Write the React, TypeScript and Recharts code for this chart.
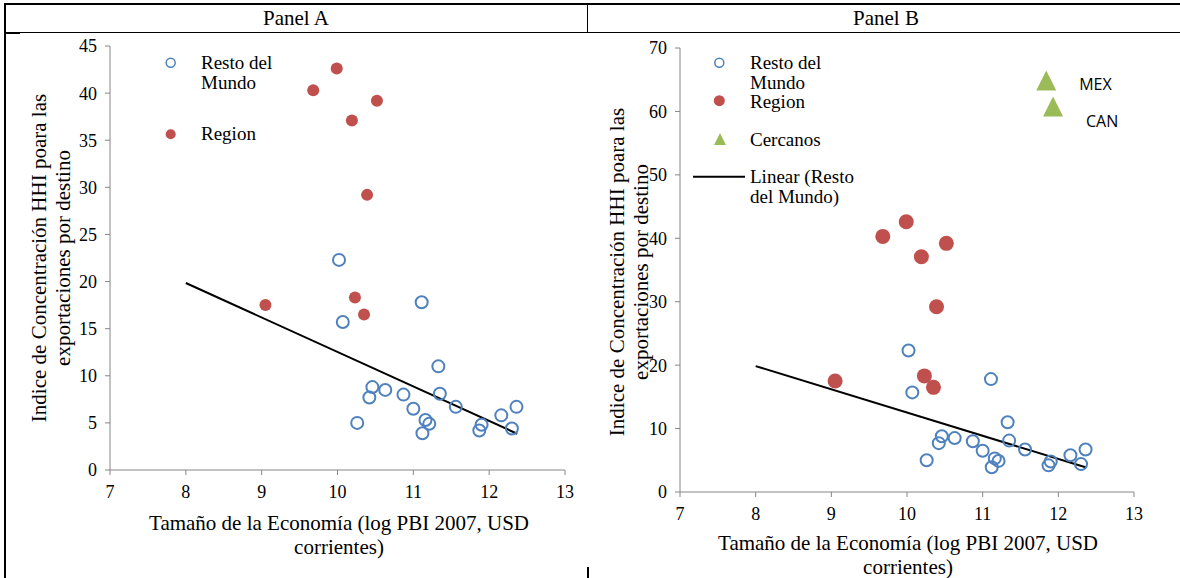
import React from "react";
import { ReferenceLine, Scatter, ScatterChart, XAxis, YAxis } from "recharts";

const SERIF = '"Liberation Serif", "Times New Roman", serif';
const SANS = '"Open Sans", "Liberation Sans", sans-serif';

// axis ticks
const xTicks = [7, 8, 9, 10, 11, 12, 13];
const yTicksA = [0, 5, 10, 15, 20, 25, 30, 35, 40, 45];
const yTicksB = [0, 10, 20, 30, 40, 50, 60, 70];

// Resto del Mundo (log PBI, HHI)
const restoX = [10.02, 10.07, 11.11, 11.33, 10.46, 10.42, 10.63, 10.87, 11.35, 11.0, 11.56, 10.26, 11.16, 11.21, 11.12, 11.9, 11.87, 12.16, 12.3, 12.36];
const restoY = [22.3, 15.7, 17.8, 11.0, 8.8, 7.7, 8.5, 8.0, 8.1, 6.5, 6.7, 5.0, 5.3, 4.9, 3.9, 4.8, 4.2, 5.8, 4.4, 6.7];

// Region
const regionX = [9.99, 9.68, 10.52, 10.19, 10.39, 9.05, 10.23, 10.35];
const regionY = [42.6, 40.3, 39.2, 37.1, 29.2, 17.5, 18.3, 16.5];

// Cercanos (only panel B)
const cercanosNames = ["MEX", "CAN"];
const cercanosX = [11.84, 11.93];
const cercanosY = [64.7, 60.6];

// Linear (Resto del Mundo)
const trendX = [8.0, 12.37];
const trendY = [19.85, 3.85];

const zip = (xs: number[], ys: number[]) => xs.map((x, i) => ({ x, y: ys[i] }));
const resto = zip(restoX, restoY);
const region = zip(regionX, regionY);
const cercanos = cercanosX.map((x, i) => ({ x, y: cercanosY[i], name: cercanosNames[i] }));
const trend = zip(trendX, trendY);

const BLUE = "#4F81BD";
const RED = "#C0504D";
const GREEN = "#9BBB59";
const AXIS = "#868686";

const labelDy: Record<string, number> = { MEX: 3, CAN: 14 };

const OpenCircle = (p: any) => (
  <circle cx={p.cx} cy={p.cy} r={6} fill="#fff" fillOpacity={0} stroke={BLUE} strokeWidth={2} />
);
const dot = (r: number) => (p: any) => <circle cx={p.cx} cy={p.cy} r={r} fill={RED} />;
const Triangle = (p: any) => {
  const name = p.payload?.name ?? "";
  return (
    <g>
      <polygon
        points={`${p.cx},${p.cy - 11} ${p.cx - 10},${p.cy + 9} ${p.cx + 10},${p.cy + 9}`}
        fill={GREEN}
      />
      <text x={p.cx + 33} y={p.cy + (labelDy[name] ?? 0)} dy="0.35em" fontFamily={SANS} fontSize={16} fill="#000">
        {name}
      </text>
    </g>
  );
};

const tickStyle = { fill: "#000", fontSize: 18, fontFamily: SERIF };

function Panel({
  yMax,
  yTicks,
  margin,
  regionR,
  withCercanos,
}: {
  yMax: number;
  yTicks: number[];
  margin: { top: number; right: number; bottom: number; left: number };
  regionR: number;
  withCercanos: boolean;
}) {
  return (
    <ScatterChart width={590} height={578} margin={margin}>
      <XAxis
        dataKey="x"
        type="number"
        domain={[7, 13]}
        ticks={xTicks}
        interval={0}
        stroke={AXIS}
        tickSize={5}
        tickMargin={10}
        tick={tickStyle}
        height={30}
      />
      <YAxis
        dataKey="y"
        type="number"
        domain={[0, yMax]}
        ticks={yTicks}
        interval={0}
        stroke={AXIS}
        tickSize={5}
        tickMargin={8}
        tick={tickStyle}
        width={60}
      />
      <Scatter data={resto} shape={OpenCircle} isAnimationActive={false} />
      <Scatter data={region} shape={dot(regionR)} isAnimationActive={false} />
      {withCercanos && <Scatter data={cercanos} shape={Triangle} isAnimationActive={false} />}
      <ReferenceLine
        segment={[trend[0], trend[1]]}
        stroke="#000"
        strokeWidth={2}
        ifOverflow="visible"
      />
    </ScatterChart>
  );
}

const abs = (s: React.CSSProperties): React.CSSProperties => ({ position: "absolute", ...s });
const txt: React.CSSProperties = { fontFamily: SERIF, color: "#000", whiteSpace: "nowrap" };

function YTitle({ cx, cy }: { cx: number; cy: number }) {
  const w = 420;
  const h = 48;
  return (
    <div
      style={abs({
        ...txt,
        left: cx - w / 2,
        top: cy - h / 2,
        width: w,
        height: h,
        fontSize: 21,
        lineHeight: "24px",
        textAlign: "center",
        transform: "rotate(-90deg)",
      })}
    >
      Indice de Concentración HHI poara las
      <br />
      exportaciones por destino
    </div>
  );
}

function XTitle({ cx, top }: { cx: number; top: number }) {
  const w = 460;
  return (
    <div style={abs({ ...txt, left: cx - w / 2, top, width: w, fontSize: 21, lineHeight: "24px", textAlign: "center" })}>
      Tamaño de la Economía (log PBI 2007, USD
      <br />
      corrientes)
    </div>
  );
}

function LegendText({ left, top, lines }: { left: number; top: number; lines: string[] }) {
  return (
    <div style={abs({ ...txt, left, top, fontSize: 19, lineHeight: "20px" })}>
      {lines.map((l, i) => (
        <div key={i}>{l}</div>
      ))}
    </div>
  );
}

export default function App() {
  return (
    <div
      style={abs({ left: 0, top: 0, width: 1180, height: 578, overflow: "hidden", background: "#fff" })}
    >
      {/* table frame */}
      <div style={abs({ left: 4, top: 3, width: 1180, height: 2, background: "#000" })} />
      <div style={abs({ left: 4, top: 3, width: 2, height: 578, background: "#000" })} />
      <div style={abs({ left: 4, top: 32, width: 1180, height: 1, background: "#000" })} />
      <div style={abs({ left: 4, top: 32, width: 16, height: 2, background: "#000" })} />
      <div style={abs({ left: 587, top: 3, width: 1, height: 30, background: "#000" })} />
      <div style={abs({ left: 587, top: 567, width: 2, height: 11, background: "#000" })} />
      <div style={abs({ ...txt, left: 5, top: 5, width: 582, lineHeight: "27px", fontSize: 21, textAlign: "center" })}>
        Panel A
      </div>
      <div style={abs({ ...txt, left: 588, top: 5, width: 596, lineHeight: "27px", fontSize: 21, textAlign: "center" })}>
        Panel B
      </div>

      {/* Panel A */}
      <div style={abs({ left: 0, top: 0 })}>
        <Panel
          yMax={45}
          yTicks={yTicksA}
          margin={{ top: 46, right: 25, bottom: 78, left: 50 }}
          regionR={6}
          withCercanos={false}
        />
      </div>
      <YTitle cx={51} cy={258} />
      <XTitle cx={339} top={511} />
      <svg style={abs({ left: 160, top: 52 })} width={24} height={100}>
        <circle cx={10.7} cy={10.7} r={4.5} fill="#fff" stroke={BLUE} strokeWidth={1.5} />
        <circle cx={10.7} cy={82.3} r={5} fill={RED} />
      </svg>
      <LegendText left={201} top={53} lines={["Resto del", "Mundo"]} />
      <LegendText left={201} top={124} lines={["Region"]} />

      {/* Panel B */}
      <div style={abs({ left: 590, top: 0 })}>
        <Panel
          yMax={70}
          yTicks={yTicksB}
          margin={{ top: 48, right: 46, bottom: 56, left: 30 }}
          regionR={7.5}
          withCercanos
        />
      </div>
      <YTitle cx={629} cy={272} />
      <XTitle cx={908} top={531} />
      <svg style={abs({ left: 690, top: 50 })} width={60} height={140}>
        <circle cx={29.3} cy={12.7} r={4.5} fill="#fff" stroke={BLUE} strokeWidth={1.5} />
        <circle cx={29.3} cy={50.7} r={5.5} fill={RED} />
        <polygon points="30,83 24,95 36,95" fill={GREEN} />
        <line x1={3} x2={55} y1={126.7} y2={126.7} stroke="#000" strokeWidth={2} />
      </svg>
      <LegendText left={750} top={53} lines={["Resto del", "Mundo"]} />
      <LegendText left={750} top={92} lines={["Region"]} />
      <LegendText left={750} top={130} lines={["Cercanos"]} />
      <LegendText left={750} top={167} lines={["Linear (Resto", "del Mundo)"]} />
    </div>
  );
}
